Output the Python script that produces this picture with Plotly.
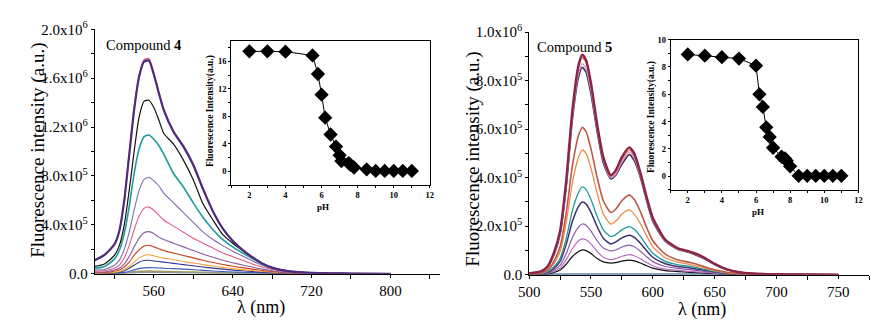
import plotly.graph_objects as go

# ---------------- data: Compound 4 spectra (intensity in units of 1e5) ----------------
wl4 = [500, 510, 520, 525, 530, 535, 540, 545, 550, 555, 560, 565, 570, 580, 590, 600,
       610, 620, 630, 640, 650, 660, 670, 680, 690, 700, 720, 740, 760, 800]
c4_olive = [0.0, 0.01, 0.03, 0.05, 0.08, 0.12, 0.16, 0.19, 0.21, 0.22, 0.21, 0.2, 0.19, 0.17, 0.15, 0.13,
            0.11, 0.09, 0.07, 0.06, 0.05, 0.04, 0.03, 0.02, 0.01, 0.01, 0.0, 0.0, 0.0, 0.0]
c4_gray = [0.0, 0.01, 0.02, 0.03, 0.05, 0.07, 0.09, 0.11, 0.12, 0.13, 0.12, 0.12, 0.11, 0.1, 0.09, 0.08,
           0.07, 0.06, 0.05, 0.04, 0.03, 0.02, 0.02, 0.01, 0.01, 0.0, 0.0, 0.0, 0.0, 0.0]
c4_blue = [0.0, 0.01, 0.03, 0.06, 0.11, 0.2, 0.32, 0.42, 0.48, 0.5, 0.49, 0.47, 0.45, 0.42, 0.38, 0.33,
           0.28, 0.23, 0.19, 0.15, 0.12, 0.09, 0.07, 0.05, 0.03, 0.02, 0.01, 0.0, 0.0, 0.0]
c4_navy = [0.0, 0.03, 0.08, 0.13, 0.25, 0.45, 0.7, 0.95, 1.08, 1.1, 1.05, 1.0, 0.95, 0.85, 0.75, 0.65,
           0.55, 0.46, 0.38, 0.3, 0.24, 0.18, 0.13, 0.09, 0.06, 0.04, 0.02, 0.01, 0.0, 0.0]
c4_yellow = [0.02, 0.05, 0.1, 0.18, 0.35, 0.6, 0.95, 1.3, 1.5, 1.55, 1.47, 1.37, 1.28, 1.15, 1.0, 0.88,
             0.75, 0.63, 0.52, 0.42, 0.34, 0.26, 0.19, 0.13, 0.08, 0.05, 0.02, 0.01, 0.0, 0.0]
c4_orange = [0.08, 0.1, 0.2, 0.3, 0.55, 0.95, 1.5, 1.95, 2.25, 2.33, 2.2, 2.05, 1.9, 1.7, 1.5, 1.3,
             1.1, 0.92, 0.76, 0.62, 0.5, 0.38, 0.27, 0.18, 0.11, 0.07, 0.03, 0.01, 0.0, 0.0]
c4_mauve = [0.12, 0.15, 0.3, 0.45, 0.8, 1.4, 2.2, 2.9, 3.35, 3.45, 3.3, 3.0, 2.8, 2.5, 2.2, 1.9,
            1.6, 1.35, 1.1, 0.9, 0.72, 0.55, 0.38, 0.25, 0.15, 0.09, 0.04, 0.02, 0.01, 0.0]
c4_pink = [0.2, 0.25, 0.45, 0.7, 1.3, 2.3, 3.6, 4.7, 5.35, 5.45, 5.2, 4.8, 4.4, 3.9, 3.4, 2.9,
           2.5, 2.1, 1.7, 1.4, 1.1, 0.8, 0.55, 0.35, 0.2, 0.12, 0.05, 0.02, 0.01, 0.0]
c4_purple = [0.3, 0.35, 0.7, 1.1, 2.0, 3.4, 5.2, 6.8, 7.7, 7.9, 7.6, 7.2, 6.6, 5.8, 5.0, 4.2,
             3.4, 2.8, 2.3, 1.85, 1.45, 1.05, 0.7, 0.42, 0.25, 0.15, 0.06, 0.03, 0.01, 0.0]
c4_teal = [0.45, 0.6, 1.2, 1.9, 3.3, 5.5, 8.2, 10.2, 11.2, 11.35, 11.0, 10.5, 9.8, 8.2, 7.1, 5.8,
           4.6, 3.6, 2.8, 2.2, 1.7, 1.25, 0.8, 0.5, 0.3, 0.18, 0.08, 0.04, 0.02, 0.0]
c4_black = [0.6, 0.8, 1.5, 2.3, 4.0, 6.8, 10.0, 12.8, 14.1, 14.2, 13.6, 12.6, 11.5, 10.6, 9.3, 7.7,
            5.7, 4.4, 3.2, 2.5, 1.9, 1.35, 0.85, 0.5, 0.3, 0.18, 0.08, 0.04, 0.02, 0.0]
c4_red = [1.1, 1.55, 2.4, 3.5, 6.0, 9.8, 13.5, 16.2, 17.5, 17.6, 16.4, 14.9, 13.5, 11.7, 10.5, 9.0,
          7.0, 5.1, 3.7, 2.7, 1.95, 1.35, 0.85, 0.5, 0.3, 0.18, 0.08, 0.04, 0.02, 0.0]
c4_top = [1.1, 1.55, 2.4, 3.5, 6.0, 9.7, 13.4, 16.1, 17.35, 17.45, 16.3, 14.8, 13.4, 11.6, 10.4, 8.9,
          6.9, 5.1, 3.7, 2.7, 1.95, 1.35, 0.85, 0.5, 0.3, 0.18, 0.08, 0.04, 0.02, 0.0]

# ---------------- data: Compound 5 spectra (intensity in units of 1e5) ----------------
wl5 = [500, 510, 515, 520, 525, 530, 535, 540, 543, 546, 550, 555, 560, 566, 570, 575, 581, 585,
       590, 595, 600, 610, 620, 630, 640, 650, 660, 670, 680, 700, 720, 750]
c5_base = [0.02, 0.02, 0.02, 0.02, 0.02, 0.02, 0.02, 0.02, 0.02, 0.02, 0.02, 0.02, 0.02, 0.02, 0.02, 0.02,
           0.02, 0.02, 0.02, 0.02, 0.02, 0.02, 0.02, 0.02, 0.02, 0.02, 0.02, 0.01, 0.01, 0.0, 0.0, 0.0]
c5_black = [0.0, 0.01, 0.03, 0.09, 0.19, 0.43, 0.75, 0.96, 1.02, 0.99, 0.87, 0.67, 0.53, 0.48, 0.5, 0.56,
            0.6, 0.57, 0.48, 0.37, 0.27, 0.17, 0.13, 0.1, 0.07, 0.04, 0.02, 0.01, 0.0, 0.0, 0.0, 0.0]
c5_violet = [0.0, 0.02, 0.05, 0.13, 0.27, 0.62, 1.08, 1.4, 1.48, 1.44, 1.27, 0.96, 0.72, 0.62, 0.66, 0.76,
             0.83, 0.78, 0.66, 0.5, 0.37, 0.23, 0.18, 0.14, 0.1, 0.06, 0.03, 0.01, 0.0, 0.0, 0.0, 0.0]
c5_purple = [0.01, 0.03, 0.07, 0.18, 0.38, 0.87, 1.53, 1.97, 2.09, 2.04, 1.8, 1.4, 1.1, 0.98, 1.02, 1.14,
             1.22, 1.15, 0.97, 0.74, 0.54, 0.34, 0.26, 0.21, 0.15, 0.09, 0.05, 0.02, 0.01, 0.0, 0.0, 0.0]
c5_navy = [0.01, 0.04, 0.1, 0.26, 0.55, 1.25, 2.2, 2.82, 3.0, 2.92, 2.57, 1.98, 1.5, 1.27, 1.35, 1.52,
           1.63, 1.54, 1.3, 0.99, 0.72, 0.45, 0.34, 0.28, 0.2, 0.12, 0.06, 0.03, 0.01, 0.0, 0.0, 0.0]
c5_teal = [0.01, 0.05, 0.12, 0.32, 0.67, 1.5, 2.65, 3.4, 3.62, 3.52, 3.1, 2.4, 1.85, 1.57, 1.65, 1.85,
           1.98, 1.87, 1.58, 1.2, 0.88, 0.55, 0.42, 0.34, 0.24, 0.14, 0.07, 0.03, 0.01, 0.0, 0.0, 0.0]
c5_orange = [0.02, 0.07, 0.17, 0.45, 0.95, 2.15, 3.8, 4.85, 5.14, 5.0, 4.4, 3.35, 2.5, 2.09, 2.2, 2.5,
             2.67, 2.5, 2.1, 1.6, 1.15, 0.7, 0.52, 0.42, 0.3, 0.17, 0.08, 0.04, 0.02, 0.01, 0.0, 0.0]
c5_brown = [0.02, 0.08, 0.2, 0.55, 1.15, 2.55, 4.5, 5.75, 6.07, 5.9, 5.2, 4.0, 3.05, 2.57, 2.7, 3.05,
            3.28, 3.1, 2.6, 1.95, 1.4, 0.85, 0.62, 0.5, 0.36, 0.2, 0.1, 0.05, 0.02, 0.01, 0.0, 0.0]
c5_dark = [0.05, 0.13, 0.31, 0.8, 1.65, 3.6, 6.4, 8.15, 8.55, 8.35, 7.45, 5.9, 4.6, 3.95, 4.1, 4.55,
           4.95, 4.7, 4.0, 3.05, 2.2, 1.38, 1.05, 0.9, 0.7, 0.42, 0.2, 0.1, 0.05, 0.02, 0.01, 0.0]
c5_pink = [0.05, 0.13, 0.32, 0.82, 1.7, 3.7, 6.5, 8.3, 8.7, 8.5, 7.6, 6.0, 4.7, 4.0, 4.15, 4.65,
           5.05, 4.8, 4.05, 3.1, 2.25, 1.4, 1.06, 0.92, 0.72, 0.43, 0.21, 0.1, 0.05, 0.02, 0.01, 0.0]
c5_red = [0.05, 0.14, 0.33, 0.85, 1.75, 3.8, 6.7, 8.55, 8.95, 8.75, 7.8, 6.1, 4.8, 4.05, 4.25, 4.75,
          5.15, 4.9, 4.1, 3.15, 2.3, 1.42, 1.08, 0.93, 0.73, 0.44, 0.21, 0.1, 0.05, 0.02, 0.01, 0.0]
c5_top = [0.05, 0.15, 0.35, 0.9, 1.8, 3.9, 6.8, 8.65, 9.07, 8.85, 7.9, 6.2, 4.85, 4.1, 4.3, 4.85,
          5.25, 5.0, 4.2, 3.2, 2.35, 1.45, 1.1, 0.95, 0.75, 0.45, 0.22, 0.1, 0.05, 0.02, 0.01, 0.0]

# ---------------- data: insets (intensity vs pH) ----------------
ph4 = [2, 3, 4, 5.5, 5.8, 6.0, 6.2, 6.5, 6.8, 7.0, 7.1, 7.5, 7.6, 7.8, 8.5, 9.0, 9.5, 10, 10.5, 11]
fi4 = [17.45, 17.45, 17.4, 16.85, 14.15, 11.15, 7.8, 5.35, 3.6, 2.35, 1.5, 1.2, 0.95, 0.55, 0.27, 0.05, 0.05, 0.05, 0.05, 0.05]
ph5 = [2, 3, 4, 5, 6, 6.2, 6.4, 6.6, 6.8, 7.0, 7.5, 7.7, 7.8, 8.0, 8.5, 9.0, 9.5, 10, 10.5, 11]
fi5 = [8.92, 8.83, 8.72, 8.62, 8.1, 6.0, 5.07, 3.58, 2.87, 2.08, 1.42, 1.3, 1.12, 0.72, 0.02, 0.02, 0.02, 0.02, 0.02, 0.02]

# tick labels
ticks4_y = [0, 4e5, 8e5, 1.2e6, 1.6e6, 2.0e6]
ticks4_text = ["0.0", "4.0x10<sup>5</sup>", "8.0x10<sup>5</sup>", "1.2x10<sup>6</sup>",
               "1.6x10<sup>6</sup>", "2.0x10<sup>6</sup>"]
ticks5_y = [0, 2e5, 4e5, 6e5, 8e5, 1.0e6]
ticks5_text = ["0.0", "2.0x10<sup>5</sup>", "4.0x10<sup>5</sup>", "6.0x10<sup>5</sup>",
               "8.0x10<sup>5</sup>", "1.0x10<sup>6</sup>"]
ticks4_x = [560, 640, 720, 800]
ticks5_x = [500, 550, 600, 650, 700, 750]

SCALE = 1e5
FONT = "Liberation Serif, Times New Roman, DejaVu Serif, serif"

fig = go.Figure()

def add(x, ys, color, width, xa, ya):
    fig.add_trace(go.Scatter(x=x, y=[v * SCALE for v in ys], mode="lines",
                             line=dict(color=color, width=width, shape="spline", smoothing=0.6),
                             xaxis=xa, yaxis=ya, showlegend=False, hoverinfo="skip"))

left_series = [
    (c4_olive, "#A39A55", 1.6), (c4_gray, "#8E9A8E", 1.6), (c4_blue, "#3A5BB8", 1.1),
    (c4_navy, "#2F3590", 1.1), (c4_yellow, "#F2A43A", 1.1), (c4_orange, "#C8401C", 1.1),
    (c4_mauve, "#8A5C9C", 1.1), (c4_pink, "#E0607E", 1.1), (c4_purple, "#7E6AAE", 1.1),
    (c4_teal, "#1F9A9A", 1.6), (c4_black, "#111111", 1.2), (c4_red, "#E06A8A", 1.4),
    (c4_top, "#4B2C7E", 2.2),
]
for ys, col, w in left_series:
    add(wl4, ys, col, w, "x", "y")

right_series = [
    (c5_base, "#5A86B0", 2.0), (c5_black, "#111111", 1.2), (c5_violet, "#B86CC0", 1.2),
    (c5_purple, "#8C5AA8", 1.2), (c5_navy, "#3C2F6E", 1.5), (c5_teal, "#1F9A9A", 1.3),
    (c5_orange, "#EE8A44", 1.3), (c5_brown, "#B85A48", 1.6), (c5_dark, "#3A3060", 1.6),
    (c5_pink, "#D496CC", 1.3), (c5_red, "#E07050", 1.3), (c5_top, "#8B2545", 2.4),
]
for ys, col, w in right_series:
    add(wl5, ys, col, w, "x2", "y2")

fig.add_trace(go.Scatter(x=ph4, y=fi4, mode="lines+markers",
                         line=dict(color="black", width=1),
                         marker=dict(symbol="diamond", size=11, color="black"),
                         xaxis="x3", yaxis="y3", showlegend=False, hoverinfo="skip"))
fig.add_trace(go.Scatter(x=ph5, y=fi5, mode="lines+markers",
                         line=dict(color="black", width=1),
                         marker=dict(symbol="diamond", size=11, color="black"),
                         xaxis="x4", yaxis="y4", showlegend=False, hoverinfo="skip"))

W, H = 878, 320
def dx(a, b):
    return [a / W, b / W]
def dy(top, bottom):
    return [(H - bottom) / H, (H - top) / H]

main_tick = dict(family=FONT, size=15, color="black")
inset_tick = dict(family=FONT, size=8.5, color="black", weight="bold")
common_main = dict(showline=True, linecolor="black", linewidth=1, ticks="outside", ticklen=3,
                   tickcolor="black", showgrid=False, zeroline=False, tickfont=main_tick,
                   mirror=False)
common_inset = dict(showline=True, linecolor="black", linewidth=1, ticks="outside", ticklen=2,
                    tickcolor="black", showgrid=False, zeroline=False, tickfont=inset_tick,
                    mirror=True)

fig.update_layout(
    width=W, height=H, margin=dict(l=0, r=0, t=0, b=0),
    paper_bgcolor="white", plot_bgcolor="rgba(0,0,0,0)",
    font=dict(family=FONT, color="black"),
    xaxis=dict(domain=dx(77, 428), range=[500, 850], tickvals=ticks4_x, anchor="y",
               minor=dict(tickvals=[520, 600, 680, 760, 840], ticks="outside", ticklen=4, tickcolor="black"),
               **common_main),
    yaxis=dict(domain=dy(12, 271), range=[0, 2.0e6], tickvals=ticks4_y, ticktext=ticks4_text,
               anchor="x", minor=dict(tickvals=[2e5, 6e5, 1.0e6, 1.4e6, 1.8e6], ticks="outside",
                                      ticklen=3, tickcolor="black"),
               **common_main),
    xaxis2=dict(domain=dx(519, 865), range=[500, 775], tickvals=ticks5_x, anchor="y2",
                minor=dict(tickvals=[525, 575, 625, 675, 725, 775], ticks="outside", ticklen=4, tickcolor="black"),
                **common_main),
    yaxis2=dict(domain=dy(15, 272), range=[0, 1.0e6], tickvals=ticks5_y, ticktext=ticks5_text,
                anchor="x2", minor=dict(tickvals=[1e5, 3e5, 5e5, 7e5, 9e5], ticks="outside",
                                        ticklen=3, tickcolor="black"),
                **common_main),
    xaxis3=dict(domain=dx(216, 418), range=[1, 12], tickvals=[2, 4, 6, 8, 10, 12], anchor="y3",
                minor=dict(tickvals=[1, 3, 5, 7, 9, 11], ticks="outside", ticklen=2, tickcolor="black"),
                **common_inset),
    yaxis3=dict(domain=dy(24, 177), range=[-2, 19], tickvals=[0, 4, 8, 12, 16], anchor="x3",
                minor=dict(tickvals=[-2, 2, 6, 10, 14, 18], ticks="outside", ticklen=2, tickcolor="black"),
                **common_inset),
    xaxis4=dict(domain=dx(663, 854), range=[1, 12], tickvals=[2, 4, 6, 8, 10, 12], anchor="y4",
                minor=dict(tickvals=[1, 3, 5, 7, 9, 11], ticks="outside", ticklen=2, tickcolor="black"),
                **common_inset),
    yaxis4=dict(domain=dy(23, 182), range=[-1, 10], tickvals=[0, 2, 4, 6, 8, 10], anchor="x4",
                minor=dict(tickvals=[-1, 1, 3, 5, 7, 9], ticks="outside", ticklen=2, tickcolor="black"),
                **common_inset),
)

def ann(text, x, y, size, angle=0):
    fig.add_annotation(text=text, x=x / W, y=(H - y) / H, xref="paper", yref="paper",
                       showarrow=False, textangle=angle, xanchor="center", yanchor="middle",
                       font=dict(family=FONT, size=size, color="black"))

ann("Fluorescence intensity (a.u.)", 19, 140, 19, angle=-90)
ann("Fluorescence intensity (a.u.)", 461, 150, 19, angle=-90)
ann("λ (nm)", 246, 307, 18)
ann("λ (nm)", 695, 309, 18)
ann("Compound <b>4</b>", 127, 29, 14.5)
ann("Compound <b>5</b>", 565, 31, 14.5)
ann("<b>Fluorescence Intensity(a.u.)</b>", 195, 99, 9.5, angle=-90)
ann("<b>Fluorescence Intensity(a.u.)</b>", 643, 105, 9.5, angle=-90)
ann("<b>pH</b>", 309, 200, 9)
ann("<b>pH</b>", 752, 206, 9)

fig.write_html("out.html")
